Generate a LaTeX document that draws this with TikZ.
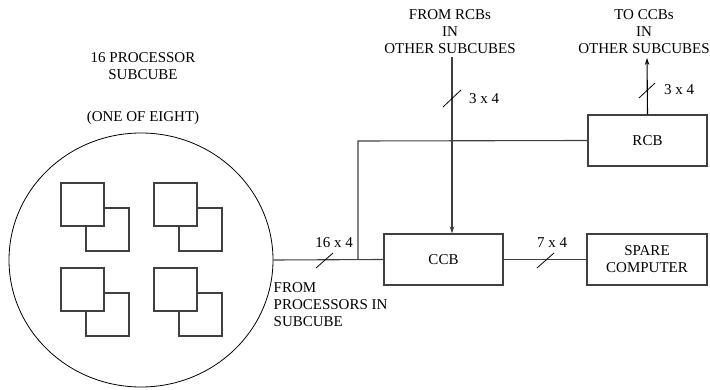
\documentclass[tikz,border=0pt]{standalone}
\usepackage{fontspec}
\setmainfont{Liberation Serif}
\usetikzlibrary{shapes.geometric,arrows.meta}
\begin{document}
\begin{tikzpicture}[x=1pt,y=-1pt,
  wire/.style={draw=black!75,line width=1.1pt},
  box/.style={draw=black!75,line width=1.1pt,minimum width=119pt,minimum height=51pt,inner sep=0pt,align=center,font=\fontsize{15}{17}\selectfont},
  lbl/.style={inner sep=0pt,font=\fontsize{15}{17}\selectfont},
  slash/.style={draw=black,line width=0.8pt},
  proc/.style={draw=black!75,line width=1.1pt,fill=white},
  arr/.style={-{Stealth[length=7pt,width=4.5pt]}}
]
\useasboundingbox (0,0) rectangle (710,390);

% subcube
\node[draw=black,line width=0.8pt,ellipse,minimum width=264pt,minimum height=254pt,inner sep=0pt] (cube) at (141,260) {};
\node[lbl,anchor=north,align=center] (title) at (143,52) {16 PROCESSOR\\SUBCUBE};
\node[lbl] (one) at (143,118) {(ONE OF EIGHT)};

% processors
\foreach \x/\y in {61/183,154/183,61/268,154/268}{
  \draw[proc] (\x+25,\y+25) rectangle ++(43,43);
  \draw[proc] (\x,\y) rectangle ++(43,43);
}

% boxes
\node[box] (ccb) at (443.5,259.5) {CCB};
\node[box,minimum width=120pt] (spare) at (647,259.5) {SPARE\\COMPUTER};
\node[box] (rcb) at (647.5,140.5) {RCB};

% coordinates
\coordinate (j) at (358,260);
\coordinate (jt) at (358,141);
\coordinate (src) at (452,57);
\coordinate (dst) at (647,58);

% labels
\node[lbl,anchor=north,align=center] (fromrcb) at (450,9.5) {FROM RCBs\\IN\\OTHER SUBCUBES};
\node[lbl,anchor=north,align=center] (toccb) at (644,9.5) {TO CCBs\\IN\\OTHER SUBCUBES};
\node[lbl,anchor=north west,align=left] (fromproc) at (273.5,282) {FROM\\PROCESSORS IN\\SUBCUBE};

% wires
\draw[wire] (cube.east) -- (ccb.west);
\draw[wire] (j) -- (jt) -- (rcb.west);
\draw[wire] (ccb.east) -- (spare.west);
\draw[wire,arr] (src) -- (src |- ccb.north);
\draw[wire,arr,draw=black] (rcb.north) -- (dst);

% bus width marks
\draw[slash] (316,268) -- (333,253);
\node[lbl] (l16) at (334,243) {16 x 4};
\draw[slash] (537,268) -- (554,253);
\node[lbl] (l7) at (552,243) {7 x 4};
\draw[slash] (443,107) -- (461,90);
\node[lbl] (l3a) at (484,99) {3 x 4};
\draw[slash] (639,98) -- (655,83);
\node[lbl] (l3b) at (679,90) {3 x 4};
\end{tikzpicture}
\end{document}
